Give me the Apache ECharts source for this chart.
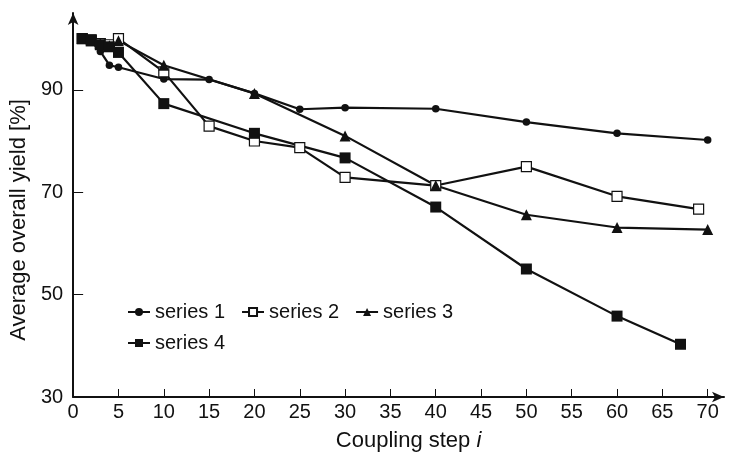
<!DOCTYPE html>
<html>
<head>
<meta charset="utf-8">
<script src="https://cdn.jsdelivr.net/npm/echarts@6/dist/echarts.min.js"></script>
<style>html,body{margin:0;padding:0;background:#fff}#c{width:730px;height:457px}</style>
</head>
<body>
<div id="c"></div>
<script>
const xTicks = [0,5,10,15,20,25,30,35,40,45,50,55,60,65,70];
const yTicks = [30,50,70,90];
const seriesNames = ['series 1','series 2','series 3','series 4'];

const xS1 = [1,2,3,4,5,10,15,20,25,30,40,50,60,70];
const yS1 = [100,99.5,97.5,94.8,94.4,92.1,92,89.3,86.2,86.5,86.3,83.7,81.5,80.2];

const xS2 = [1,2,3,4,5,10,15,20,25,30,40,50,60,69];
const yS2 = [100,99.6,99,98.8,100,93.5,82.9,80,78.7,72.9,71.3,75,69.2,66.7];

const xS3 = [1,2,3,4,5,10,20,30,40,50,60,70];
const yS3 = [100,99.6,99,98.6,99.6,94.8,89.3,81,71.3,65.6,63.1,62.7];

const xS4 = [1,2,3,4,5,10,20,30,40,50,60,67];
const yS4 = [100,99.8,98.8,98.4,97.3,87.3,81.5,76.7,67.1,55,45.8,40.3];

const pairs = (xs, ys) => xs.map((x, i) => [x, ys[i]]);
const FONT = 'Liberation Sans, Arial, Helvetica, sans-serif';
const INK = '#111';

function lineSeries(name, data, symbol, size, fill) {
  return {
    name, type: 'line', data, symbol, symbolSize: size,
    showSymbol: true,
    lineStyle: { color: INK, width: 2.2 },
    itemStyle: { color: fill, borderColor: INK, borderWidth: fill === '#fff' ? 1.2 : 0 },
    emphasis: { disabled: true },
    animation: false
  };
}

const chart = echarts.init(document.getElementById('c'), null, { renderer: 'canvas' });
chart.setOption({
  animation: false,
  backgroundColor: '#fff',
  textStyle: { fontFamily: FONT, color: INK },
  grid: { left: 68, right: 6, top: 13, bottom: 54, containLabel: false },
  xAxis: {
    type: 'value', min: 0, max: 71.8,
    name: 'Coupling step {i|i}',
    nameLocation: 'middle', nameGap: 33,
    nameTextStyle: { fontSize: 22, color: INK, fontFamily: FONT, padding: [0, 0, 0, 20],
      rich: { i: { fontStyle: 'italic', fontSize: 22, fontFamily: FONT, color: INK } } },
    axisLine: { show: true, lineStyle: { color: INK, width: 2 }, symbol: ['none', 'arrow'], symbolSize: [8, 12] },
    axisTick: { show: true, inside: true, length: 8, lineStyle: { color: INK, width: 1 }, customValues: xTicks },
    axisLabel: { fontSize: 20, color: INK, fontFamily: FONT, margin: 5, customValues: xTicks },
    splitLine: { show: false }
  },
  yAxis: {
    type: 'value', min: 30, max: 105,
    name: 'Average overall yield [%]',
    nameLocation: 'middle', nameGap: 36,
    nameTextStyle: { fontSize: 22, color: INK, fontFamily: FONT, padding: [0, 30, 0, 0] },
    axisLine: { show: true, lineStyle: { color: INK, width: 2 }, symbol: ['none', 'arrow'], symbolSize: [8, 12] },
    axisTick: { show: true, inside: true, length: 10, lineStyle: { color: INK, width: 1 }, customValues: yTicks },
    axisLabel: { fontSize: 20, color: INK, fontFamily: FONT, margin: 10, customValues: yTicks },
    splitLine: { show: false }
  },
  legend: [
    {
      data: seriesNames.slice(0, 3), left: 127, top: 302, itemGap: 16, padding: 0,
      itemWidth: 22, itemHeight: 10, textStyle: { fontSize: 20, color: INK, fontFamily: FONT }
    },
    {
      data: seriesNames.slice(3), left: 127, top: 333, padding: 0,
      itemWidth: 22, itemHeight: 10, textStyle: { fontSize: 20, color: INK, fontFamily: FONT }
    }
  ],
  series: [
    lineSeries(seriesNames[0], pairs(xS1, yS1), 'circle', 7.5, INK),
    lineSeries(seriesNames[1], pairs(xS2, yS2), 'rect', 10, '#fff'),
    lineSeries(seriesNames[2], pairs(xS3, yS3), 'triangle', 11, INK),
    lineSeries(seriesNames[3], pairs(xS4, yS4), 'rect', 11, INK)
  ]
});
</script>
</body>
</html>
